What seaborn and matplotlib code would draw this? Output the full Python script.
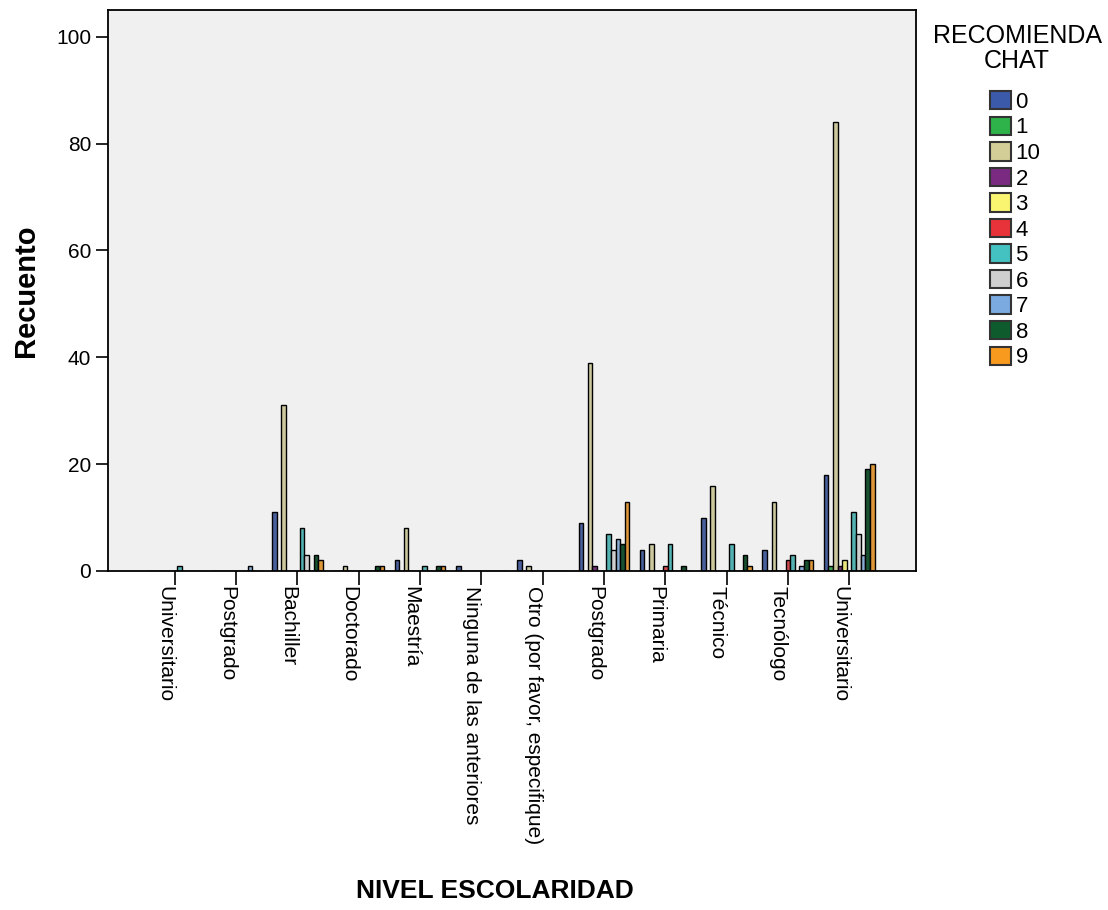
import numpy as np
import pandas as pd
import matplotlib
matplotlib.use("Agg")
import matplotlib.pyplot as plt
from matplotlib.patches import Patch
import seaborn as sns

# ---- data ----
categories = [" Universitario", " Postgrado", "Bachiller", "Doctorado", "Maestría",
              "Ninguna de las anteriores", "Otro (por favor, especifique)",
              "Postgrado", "Primaria", "Técnico", "Tecnólogo", "Universitario"]
tick_labels = ["Universitario", "Postgrado", "Bachiller", "Doctorado", "Maestría",
               "Ninguna de las anteriores", "Otro (por favor, especifique)",
               "Postgrado", "Primaria", "Técnico", "Tecnólogo", "Universitario"]
hue_levels = ["0", "1", "10", "2", "3", "4", "5", "6", "7", "8", "9"]

v0 = [0, 0, 11, 0, 2, 1, 2, 9, 4, 10, 4, 18]
v1 = [0, 0, 0, 0, 0, 0, 0, 0, 0, 0, 0, 1]
v10 = [0, 0, 31, 1, 8, 0, 1, 39, 5, 16, 13, 84]
v2 = [0, 0, 0, 0, 0, 0, 0, 1, 0, 0, 0, 1]
v3 = [0, 0, 0, 0, 0, 0, 0, 0, 0, 0, 0, 2]
v4 = [0, 0, 0, 0, 0, 0, 0, 0, 1, 0, 2, 0]
v5 = [1, 0, 8, 0, 1, 0, 0, 7, 5, 5, 3, 11]
v6 = [0, 0, 3, 0, 0, 0, 0, 4, 0, 0, 0, 7]
v7 = [0, 1, 0, 0, 0, 0, 0, 6, 0, 0, 1, 3]
v8 = [0, 0, 3, 1, 1, 0, 0, 5, 1, 3, 2, 19]
v9 = [0, 0, 2, 1, 1, 0, 0, 13, 0, 1, 2, 20]

series = [v0, v1, v10, v2, v3, v4, v5, v6, v7, v8, v9]
colors = ["#3C5AAA", "#2DB34A", "#D3CE97", "#7A2A80", "#FAF570", "#E8333A",
          "#44C2C2", "#CFCFCF", "#7BAAE0", "#0E5B2E", "#F89A1E"]

rows = []
for lvl, vals in zip(hue_levels, series):
    for c, v in zip(categories, vals):
        rows.append({"NIVEL": c, "RECOMIENDA": lvl, "Recuento": v})
df = pd.DataFrame(rows)

sns.set_theme(style="white")
plt.rcParams["font.family"] = ["Liberation Sans", "DejaVu Sans"]
plt.rcParams["text.color"] = "black"
plt.rcParams["axes.labelcolor"] = "black"

fig = plt.figure(figsize=(11.08, 9.10), dpi=100)
W, H = 1108, 910
ax = fig.add_axes([108 / W, 1 - 571 / H, (916 - 108) / W, (571 - 10) / H])
ax.set_facecolor("#F0F0F0")

sns.barplot(data=df, x="NIVEL", y="Recuento", hue="RECOMIENDA",
            order=categories, hue_order=hue_levels,
            palette=dict(zip(hue_levels, colors)), width=0.83,
            edgecolor="black", linewidth=1.0, errorbar=None,
            legend=False, ax=ax)

ax.set_ylim(0, 105)
ax.set_xlim(-1.09, 12.09)
ax.set_yticks([0, 20, 40, 60, 80, 100])
ax.tick_params(axis="y", direction="out", length=9, width=1.2, pad=3,
               labelsize=15, left=True, colors="black")
ax.tick_params(axis="x", direction="out", length=10, width=1.2, pad=1,
               labelsize=15, bottom=True, colors="black")
ax.set_xticks(range(len(categories)))
ax.set_xticklabels(tick_labels, rotation=-90, ha="right", va="top",
                   rotation_mode="default")
for s in ax.spines.values():
    s.set_color("black")
    s.set_linewidth(1.3)
    s.set_visible(True)

ax.set_ylabel("Recuento", fontsize=21, fontweight="bold", labelpad=12)
ax.set_xlabel("NIVEL ESCOLARIDAD", fontsize=19, fontweight="bold")
ax.xaxis.set_label_coords((495 - 108) / 808, -(879 - 571) / 561)

# legend title and entries
fig.text(1017 / W, 1 - 24 / H, "RECOMIENDA\nCHAT", ha="center", va="top",
         fontsize=18, linespacing=1.05, multialignment="center")
handles = [Patch(facecolor=c, edgecolor="#333333", linewidth=1.5) for c in colors]
leg = fig.legend(handles, hue_levels,
                 loc="upper left", bbox_to_anchor=(990 / W, 1 - 91 / H),
                 frameon=False, fontsize=16,
                 handlelength=0.95, handleheight=0.9, handletextpad=0.2,
                 labelspacing=0.165, borderpad=0, borderaxespad=0)

fig.savefig("out.png", dpi=100)
